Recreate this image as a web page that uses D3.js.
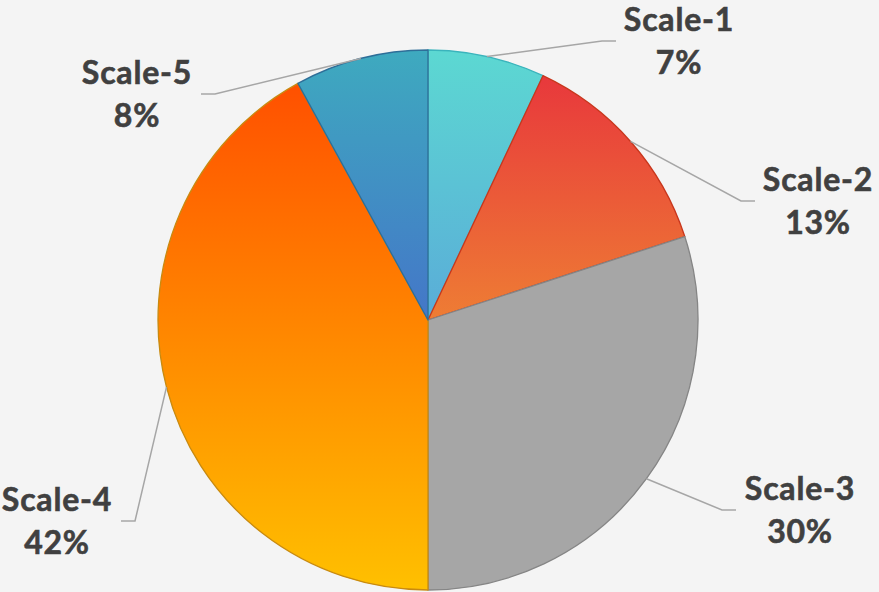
<!DOCTYPE html>
<html>
<head>
<meta charset="utf-8">
<script src="https://cdn.jsdelivr.net/npm/d3@7"></script>
<style>
  html, body { margin: 0; padding: 0; background: #f4f4f4; }
  svg { display: block; }
</style>
</head>
<body>
<svg id="chart" width="879" height="592"></svg>
<script>
// Share of responses per scale point
const categories = ["Scale-1", "Scale-2", "Scale-3", "Scale-4", "Scale-5"];
const values = [7, 13, 30, 42, 8];

// Fill gradients (top colour, bottom colour) and outline colours per slice
const gradTop = ["#5cd8d2", "#e8383c", "#a6a6a6", "#ff5000", "#3eaabf"];
const gradBottom = ["#5aacd8", "#ee7d34", "#a6a6a6", "#ffc000", "#4476c8"];
const strokes = ["#3ab4bc", "#c8361c", "#858585", "#c88a10", "#2e6e98"];

// Label block anchor: centre x, vertical middle, side of the pie it sits on
const labelLayout = [
  { cx: 679, cy: 41, side: 1, half: 54 },
  { cx: 818, cy: 201, side: 1, half: 54 },
  { cx: 800, cy: 510, side: 1, half: 55 },
  { cx: 57, cy: 521, side: -1, half: 55 },
  { cx: 137, cy: 94, side: -1, half: 55 }
];

const width = 879, height = 592;
const cx = 428, cy = 320, radius = 270;

const svg = d3.select("#chart");
const defs = svg.append("defs");

values.forEach((v, i) => {
  const g = defs.append("linearGradient")
    .attr("id", "grad" + i)
    .attr("x1", 0).attr("y1", 0).attr("x2", 0).attr("y2", 1);
  g.append("stop").attr("offset", "0%").attr("stop-color", gradTop[i]);
  g.append("stop").attr("offset", "100%").attr("stop-color", gradBottom[i]);
});

const pie = d3.pie().sort(null).value(d => d);
const arcs = pie(values);
const arc = d3.arc().innerRadius(0).outerRadius(radius);

const g = svg.append("g").attr("transform", `translate(${cx},${cy})`);

g.selectAll("path.slice")
  .data(arcs)
  .join("path")
  .attr("class", "slice")
  .attr("d", arc)
  .attr("fill", (d, i) => `url(#grad${i})`)
  .attr("stroke", (d, i) => strokes[i])
  .attr("stroke-width", 1.3)
  .attr("stroke-linejoin", "round");

// Leader lines: from slice mid-angle on the rim, to an elbow, then a short horizontal run
const gap = 9, run = 14;
arcs.forEach((d, i) => {
  const mid = (d.startAngle + d.endAngle) / 2;
  const sx = cx + radius * Math.sin(mid);
  const sy = cy - radius * Math.cos(mid);
  const L = labelLayout[i];
  const endX = L.side > 0 ? L.cx - L.half - gap : L.cx + L.half + gap;
  const elbowX = endX - L.side * run;
  svg.append("path")
    .attr("d", d3.line()([[sx, sy], [elbowX, L.cy], [endX, L.cy]]))
    .attr("fill", "none")
    .attr("stroke", "#a6a6a6")
    .attr("stroke-width", 1.5);
});

// Category name and percentage
const labels = svg.selectAll("text.lbl")
  .data(arcs)
  .join("text")
  .attr("class", "lbl")
  .attr("text-anchor", "middle")
  .attr("font-family", "Lato, 'Open Sans', sans-serif")
  .attr("font-weight", "bold")
  .attr("font-size", 32)
  .attr("letter-spacing", 0.8)
  .attr("fill", "#404040")
  .attr("stroke", "#404040")
  .attr("stroke-width", 0.6);

labels.append("tspan")
  .attr("x", (d, i) => labelLayout[i].cx)
  .attr("y", (d, i) => labelLayout[i].cy - 10)
  .text((d, i) => categories[i]);

labels.append("tspan")
  .attr("x", (d, i) => labelLayout[i].cx)
  .attr("y", (d, i) => labelLayout[i].cy + 33)
  .text(d => d.data + "%");
</script>
</body>
</html>
